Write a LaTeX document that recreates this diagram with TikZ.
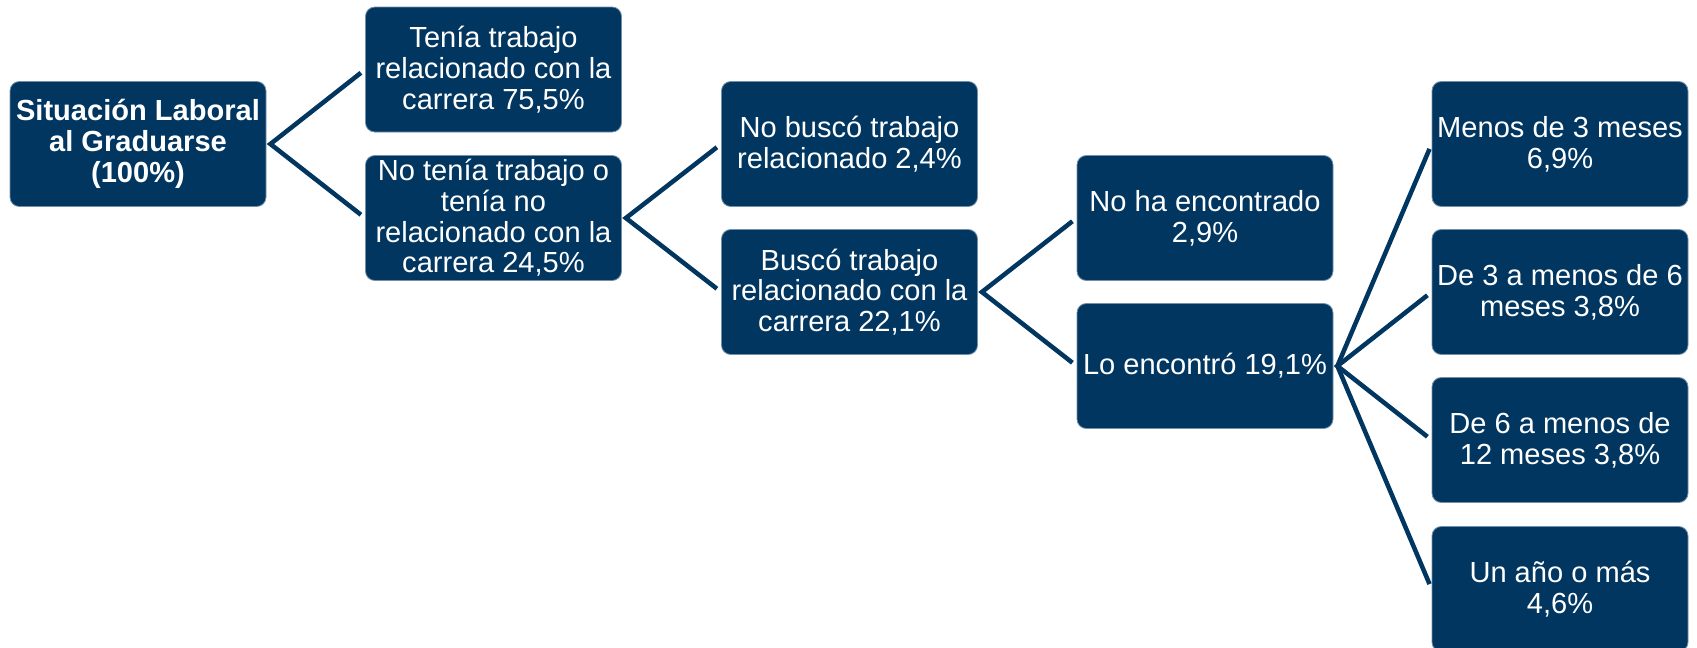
\documentclass[tikz,border=0pt]{standalone}
\usepackage{fontspec}
\setmainfont{Liberation Sans}
\definecolor{azuloscuro}{RGB}{0,54,96}

\begin{document}
\begin{tikzpicture}[
  x=0.75pt,y=-0.75pt,
  box/.style={rectangle,rounded corners=7pt,draw=azuloscuro!55!white,line width=0.6pt,
    fill=azuloscuro,text=white,minimum width=192pt,minimum height=93.75pt,inner sep=1pt,
    align=center,font=\fontsize{21.8pt}{23pt}\selectfont},
  rootbox/.style={box,font=\fontsize{21.8pt}{23pt}\selectfont\bfseries},
  link/.style={draw=azuloscuro,line width=3.4pt,shorten <=4pt,shorten >=4pt}
]

\useasboundingbox (0,0) rectangle (1697,647);

\node[rootbox] (sit) at (138,144) {Situación Laboral\\al Graduarse\\(100\%)};

\node[box] (tenia) at (493.5,69.5) {Tenía trabajo\\relacionado con la\\carrera 75,5\%};
\node[box] (notenia) at (493.5,218) {No tenía trabajo o\\tenía no\\relacionado con la\\carrera 24,5\%};

\node[box] (nobusco) at (849.5,144) {No buscó trabajo\\relacionado 2,4\%};
\node[box] (busco) at (849.5,292) {Buscó trabajo\\relacionado con la\\carrera 22,1\%};

\node[box] (noha) at (1205,218) {No ha encontrado\\2,9\%};
\node[box] (loenc) at (1205,366) {Lo encontró 19,1\%};

\node[box] (mes3) at (1560,144) {Menos de 3 meses\\6,9\%};
\node[box] (mes6) at (1560,292) {De 3 a menos de 6\\meses 3,8\%};
\node[box] (mes12) at (1560,440) {De 6 a menos de\\12 meses 3,8\%};
\node[box] (anio) at (1560,589) {Un año o más\\4,6\%};

\draw[link] (tenia.west) -- ([xshift=3pt]sit.east) -- (notenia.west);
\draw[link] (nobusco.west) -- ([xshift=3pt]notenia.east) -- (busco.west);
\draw[link] (noha.west) -- ([xshift=3pt]busco.east) -- (loenc.west);
\foreach \a/\b in {mes3/anio,mes6/mes12}
  \draw[link] (\a.west) -- ([xshift=3pt]loenc.east) -- (\b.west);

\end{tikzpicture}
\end{document}
